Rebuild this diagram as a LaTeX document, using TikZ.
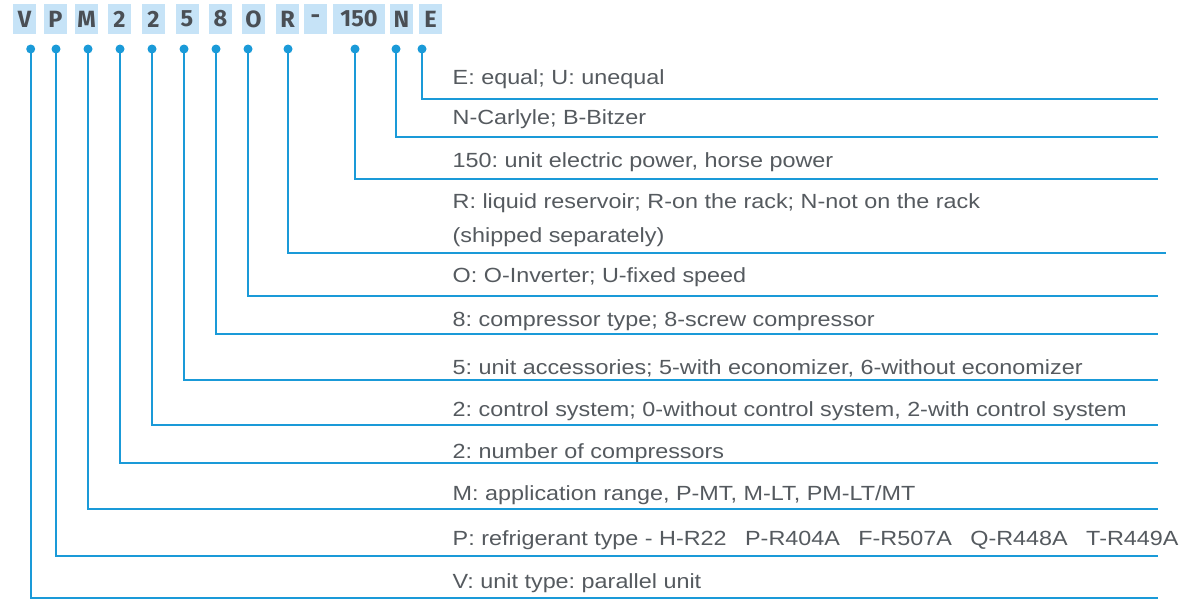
\documentclass[tikz,border=0pt]{standalone}
\usepackage{fontspec}
\setmainfont{Liberation Sans}[FakeStretch=1.14]
\newfontfamily\codefont{Fira Sans}
\definecolor{lineblue}{HTML}{1A9AD8}
\definecolor{boxblue}{HTML}{C6E3F7}
\definecolor{txtgray}{HTML}{555A5F}
\definecolor{codegray}{HTML}{4A4F55}
\frenchspacing
\begin{document}
\begin{tikzpicture}[x=1pt,y=-1pt,
  codebox/.style={fill=boxblue,minimum height=30pt,inner sep=0pt,text=codegray,
     font=\codefont\bfseries\fontsize{23.5}{26}\selectfont},
  dotpt/.style={circle,fill=lineblue,inner sep=0pt,minimum size=9pt},
  lbl/.style={anchor=base west,inner sep=0pt,text=txtgray,font=\fontsize{20.5}{24}\selectfont},
  conn/.style={draw=lineblue,line width=2pt}]
\useasboundingbox (0,0) rectangle (1182,600);
% code letters
\node[codebox,minimum width=23pt] (bV) at (24.5,19) {V};
\node[codebox,minimum width=23pt] (bP) at (55.5,19) {P};
\node[codebox,minimum width=23pt] (bM) at (86.5,19) {M};
\node[codebox,minimum width=23pt] (bA) at (119.5,19) {2};
\node[codebox,minimum width=23pt] (bB) at (153.5,19) {2};
\node[codebox,minimum width=23pt] (bC) at (187,19) {5};
\node[codebox,minimum width=23pt] (bD) at (220.5,19) {8};
\node[codebox,minimum width=23pt] (bO) at (253.5,19) {O};
\node[codebox,minimum width=23pt] (bR) at (287.5,19) {R};
\node[codebox,minimum width=23pt] (bH) at (315.5,19) {-};
\node[codebox,minimum width=52pt] (bF) at (359,19) {150};
\node[codebox,minimum width=23pt] (bN) at (401.5,19) {N};
\node[codebox,minimum width=23pt] (bE) at (430.5,19) {E};
% dots
\node[dotpt] (dV) at (30.7,49) {};
\node[dotpt] (dP) at (56,49) {};
\node[dotpt] (dM) at (88,49) {};
\node[dotpt] (dA) at (120,49) {};
\node[dotpt] (dB) at (152,49) {};
\node[dotpt] (dC) at (184,49) {};
\node[dotpt] (dD) at (216,49) {};
\node[dotpt] (dO) at (248,49) {};
\node[dotpt] (dR) at (288,49) {};
\node[dotpt] (dF) at (355,49) {};
\node[dotpt] (dN) at (396,49) {};
\node[dotpt] (dE) at (422,49) {};
% line ends
\coordinate (eE) at (1158,99);
\coordinate (eN) at (1158,137);
\coordinate (eF) at (1158,178.5);
\coordinate (eR) at (1166,253);
\coordinate (eO) at (1158,296);
\coordinate (eD) at (1158,334);
\coordinate (eC) at (1158,380);
\coordinate (eB) at (1158,425);
\coordinate (eA) at (1158,463);
\coordinate (eM) at (1158,509);
\coordinate (eP) at (1158,555.5);
\coordinate (eV) at (1158,597.5);
% labels
\node[lbl] (tE) at (452.5,84) {E: equal; U: unequal};
\node[lbl] (tN) at (452.5,124.5) {N-Carlyle; B-Bitzer};
\node[lbl] (tF) at (452.5,167) {150: unit electric power, horse power};
\node[lbl] (tR1) at (452.5,208.5) {R: liquid reservoir; R-on the rack; N-not on the rack};
\node[lbl] (tR2) at (452.5,242) {(shipped separately)};
\node[lbl] (tO) at (452.5,282) {O: O-Inverter; U-fixed speed};
\node[lbl] (tD) at (452.5,326.5) {8: compressor type; 8-screw compressor};
\node[lbl] (tC) at (452.5,374) {5: unit accessories; 5-with economizer, 6-without economizer};
\node[lbl] (tB) at (452.5,416.5) {2: control system; 0-without control system, 2-with control system};
\node[lbl] (tA) at (452.5,458.5) {2: number of compressors};
\node[lbl] (tM) at (452.5,500.5) {M: application range, P-MT, M-LT, PM-LT/MT};
\node[lbl] (tP) at (452.5,545) {P: refrigerant type - H-R22\hspace{0.9em}P-R404A\hspace{0.9em}F-R507A\hspace{0.9em}Q-R448A\hspace{0.9em}T-R449A};
\node[lbl] (tV) at (452.5,588) {V: unit type: parallel unit};
% connectors
\foreach \k in {E,N,F,R,O,D,C,B,A,M,P,V}{
  \draw[conn] (d\k.center) |- (e\k);
}
\end{tikzpicture}
\end{document}
